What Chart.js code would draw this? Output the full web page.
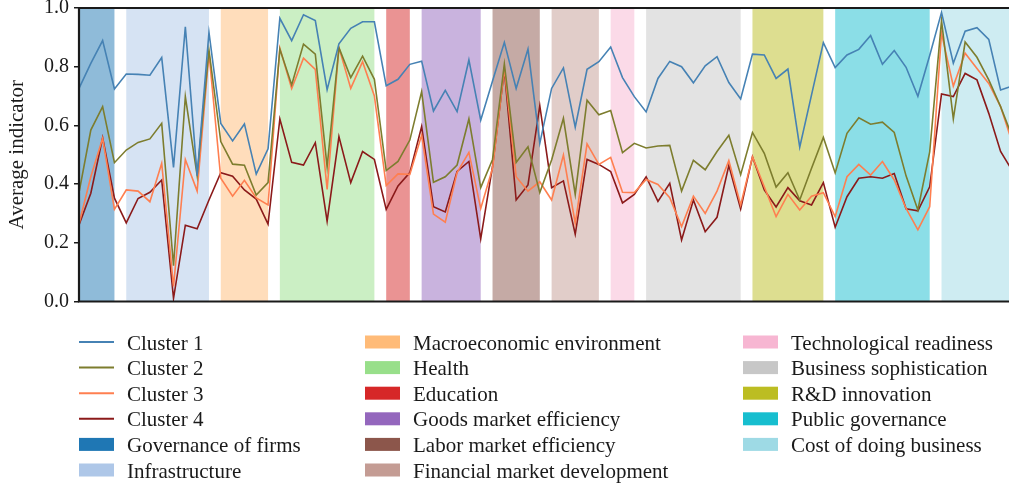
<!DOCTYPE html>
<html>
<head>
<meta charset="utf-8">
<script src="https://cdn.jsdelivr.net/npm/chart.js@4"></script>
<style>
  html, body { margin: 0; padding: 0; background: #fff; overflow: hidden; }
  #wrap { width: 1020px; height: 485px; position: relative; }
</style>
</head>
<body>
<div id="wrap"><canvas id="chart"></canvas></div>
<script>
// ===== Data =====
const categories = Array.from({ length: 80 }, (_, i) => String(i + 1));

const cluster1 = [
  0.726, 0.811, 0.889, 0.724, 0.775, 0.774, 0.771, 0.831, 0.457, 0.936,
  0.429, 0.917, 0.607, 0.547, 0.605, 0.434, 0.520, 0.965, 0.889, 0.977,
  0.957, 0.722, 0.878, 0.931, 0.953, 0.953, 0.735, 0.757, 0.808, 0.819,
  0.649, 0.719, 0.647, 0.823, 0.618, 0.751, 0.883, 0.726, 0.860, 0.539,
  0.726, 0.796, 0.594, 0.791, 0.817, 0.867, 0.763, 0.698, 0.646, 0.760,
  0.818, 0.800, 0.745, 0.803, 0.834, 0.746, 0.690, 0.843, 0.840, 0.760,
  0.792, 0.526, 0.704, 0.882, 0.797, 0.840, 0.859, 0.906, 0.808, 0.855,
  0.798, 0.699, 0.838, 0.985, 0.812, 0.921, 0.933, 0.893, 0.721, 0.734
];
const cluster2 = [
  0.371, 0.584, 0.664, 0.473, 0.516, 0.542, 0.554, 0.607, 0.122, 0.698,
  0.429, 0.857, 0.545, 0.468, 0.464, 0.363, 0.405, 0.860, 0.738, 0.877,
  0.843, 0.459, 0.865, 0.763, 0.836, 0.757, 0.446, 0.477, 0.550, 0.715,
  0.406, 0.425, 0.465, 0.622, 0.388, 0.484, 0.809, 0.474, 0.527, 0.371,
  0.482, 0.624, 0.365, 0.686, 0.636, 0.651, 0.507, 0.539, 0.523, 0.530,
  0.532, 0.376, 0.481, 0.449, 0.511, 0.566, 0.432, 0.576, 0.505, 0.390,
  0.439, 0.346, 0.454, 0.559, 0.438, 0.573, 0.626, 0.604, 0.611, 0.576,
  0.428, 0.312, 0.510, 0.957, 0.622, 0.884, 0.832, 0.755, 0.664, 0.560
];
const cluster3 = [
  0.264, 0.425, 0.556, 0.314, 0.380, 0.376, 0.340, 0.471, 0.051, 0.484,
  0.376, 0.846, 0.420, 0.359, 0.413, 0.353, 0.329, 0.863, 0.726, 0.829,
  0.791, 0.382, 0.865, 0.726, 0.817, 0.700, 0.395, 0.435, 0.433, 0.567,
  0.298, 0.270, 0.439, 0.508, 0.317, 0.454, 0.794, 0.425, 0.376, 0.408,
  0.346, 0.499, 0.266, 0.537, 0.467, 0.491, 0.372, 0.371, 0.416, 0.399,
  0.354, 0.255, 0.359, 0.300, 0.376, 0.480, 0.329, 0.493, 0.391, 0.289,
  0.365, 0.312, 0.359, 0.371, 0.289, 0.425, 0.467, 0.431, 0.477, 0.414,
  0.317, 0.244, 0.323, 0.914, 0.734, 0.846, 0.794, 0.743, 0.664, 0.540
];
const cluster4 = [
  0.261, 0.369, 0.558, 0.352, 0.268, 0.351, 0.372, 0.414, 0.011, 0.260,
  0.248, 0.346, 0.439, 0.427, 0.380, 0.349, 0.264, 0.622, 0.474, 0.465,
  0.541, 0.274, 0.562, 0.405, 0.511, 0.484, 0.314, 0.394, 0.439, 0.596,
  0.323, 0.305, 0.443, 0.477, 0.213, 0.460, 0.789, 0.346, 0.397, 0.667,
  0.388, 0.411, 0.229, 0.484, 0.467, 0.443, 0.336, 0.365, 0.425, 0.341,
  0.403, 0.210, 0.346, 0.238, 0.287, 0.463, 0.315, 0.493, 0.380, 0.322,
  0.388, 0.343, 0.329, 0.405, 0.253, 0.357, 0.420, 0.425, 0.420, 0.436,
  0.316, 0.309, 0.391, 0.707, 0.698, 0.777, 0.755, 0.641, 0.511, 0.445
];

const seriesNames = ['Cluster 1', 'Cluster 2', 'Cluster 3', 'Cluster 4'];
const yTickLabels = ['0.0', '0.2', '0.4', '0.6', '0.8', '1.0'];

// indicator groups: first / last category index of each shaded band
const bandNames = [
  'Governance of firms', 'Infrastructure', 'Macroeconomic environment', 'Health',
  'Education', 'Goods market efficiency', 'Labor market efficiency',
  'Financial market development', 'Technological readiness', 'Business sophistication',
  'R&D innovation', 'Public governance', 'Cost of doing business'
];
const bandStart = [0, 4, 12, 17, 26, 29, 35, 40, 45, 48, 57, 64, 73];
const bandEnd   = [3, 11, 16, 25, 28, 34, 39, 44, 47, 56, 63, 72, 79];

// ===== Styles =====
const lineColors = ['#4682b4', '#7d7d2e', '#ff7f50', '#8b1a1a'];
const bandColors = [
  '#1f77b4', '#aec7e8', '#ffbb78', '#98df8a', '#d62728', '#9467bd', '#8c564b',
  '#c49c94', '#f7b6d2', '#c7c7c7', '#bcbd22', '#17becf', '#9edae5'
];
const FONT = "'Liberation Serif', 'DejaVu Serif', serif";
const INK = '#1a1a1a';

function hexAlpha(hex, a) {
  const n = parseInt(hex.slice(1), 16);
  return `rgba(${n >> 16},${(n >> 8) & 255},${n & 255},${a})`;
}

// ===== Plugins =====
const bandsPlugin = {
  id: 'bands',
  beforeDatasetsDraw(chart) {
    const { ctx, chartArea: a, scales: { x } } = chart;
    ctx.save();
    bandStart.forEach((s, i) => {
      const x0 = x.getPixelForValue(s), x1 = x.getPixelForValue(bandEnd[i]);
      ctx.fillStyle = hexAlpha(bandColors[i], 0.5);
      ctx.fillRect(x0, a.top, x1 - x0, a.bottom - a.top);
    });
    ctx.restore();
  }
};

const framePlugin = {
  id: 'frame',
  afterDatasetsDraw(chart) {
    const { ctx, chartArea: a } = chart;
    ctx.save();
    ctx.strokeStyle = INK;
    ctx.lineWidth = 2.2;
    ctx.beginPath();
    ctx.moveTo(a.right + 20, a.top); ctx.lineTo(a.left, a.top);
    ctx.lineTo(a.left, a.bottom); ctx.lineTo(a.right + 20, a.bottom);
    ctx.stroke();
    ctx.restore();
  }
};

const legendPlugin = {
  id: 'customLegend',
  afterDraw(chart) {
    const { ctx } = chart;
    const entries = [
      ...seriesNames.map((n, i) => ({ label: n, color: lineColors[i], line: true })),
      ...bandNames.map((n, i) => ({ label: n, color: bandColors[i], line: false }))
    ];
    const colX = [79, 365, 743];
    const rowY0 = 342, rowH = 25.6;
    ctx.save();
    ctx.font = `21px ${FONT}`;
    ctx.textBaseline = 'alphabetic';
    entries.forEach((e, k) => {
      const col = Math.floor(k / 6), row = k % 6;
      const x = colX[col], y = rowY0 + row * rowH;
      if (e.line) {
        ctx.strokeStyle = e.color; ctx.lineWidth = 2;
        ctx.beginPath(); ctx.moveTo(x, y); ctx.lineTo(x + 35, y); ctx.stroke();
      } else {
        ctx.fillStyle = e.color;
        ctx.fillRect(x, y - 6.5, 35, 13);
      }
      ctx.fillStyle = INK;
      ctx.fillText(e.label, x + 48, y + 7.5);
    });
    ctx.restore();
  }
};

// ===== Chart =====
new Chart(document.getElementById('chart'), {
  type: 'line',
  data: {
    labels: categories,
    datasets: [cluster1, cluster2, cluster3, cluster4].map((d, i) => ({
      label: seriesNames[i], data: d,
      borderColor: lineColors[i], backgroundColor: lineColors[i],
      borderWidth: 1.6, pointRadius: 0, tension: 0, fill: false
    }))
  },
  options: {
    responsive: true, maintainAspectRatio: false, animation: false,
    layout: { padding: { top: 8, bottom: 183.5, right: 7.6, left: 0 } },
    plugins: { legend: { display: false }, tooltip: { enabled: false } },
    scales: {
      x: { display: false, offset: false },
      y: {
        min: 0, max: 1,
        ticks: {
          stepSize: 0.2, padding: 5, color: INK,
          font: { family: FONT, size: 20 },
          callback: (v, i) => yTickLabels[i]
        },
        grid: { drawOnChartArea: false, drawTicks: true, tickLength: 5, color: INK, lineWidth: 1.5 },
        border: { display: false },
        title: { display: true, text: 'Average indicator', color: INK, font: { family: FONT, size: 21 }, padding: { top: 5, bottom: 0 } },
        afterFit(s) { s.width = 79; s.paddingTop = 0; s.paddingBottom = 0; }
      }
    }
  },
  plugins: [bandsPlugin, framePlugin, legendPlugin]
});
</script>
</body>
</html>
